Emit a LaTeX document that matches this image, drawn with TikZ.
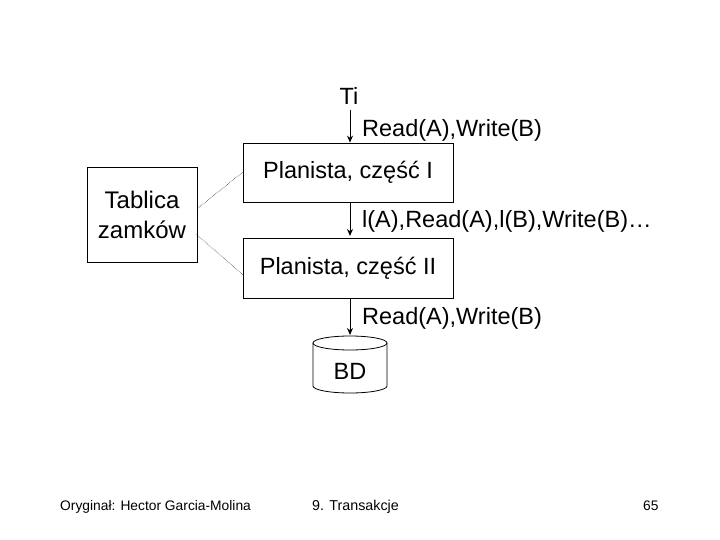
\documentclass[tikz,border=0pt]{standalone}
\usepackage{fontspec}
\setmainfont{Liberation Sans}
\usetikzlibrary{shapes.geometric,arrows.meta}
\begin{document}
\begin{tikzpicture}[x=1pt,y=-1pt,
  big/.style={font=\fontsize{23.5}{27}\selectfont},
  box/.style={draw,line width=0.8pt,inner sep=0pt,big},
  lbl/.style={anchor=west,inner sep=0pt,big},
  arr/.style={-{Stealth[length=7pt,width=6pt]},line width=1pt},
  dots/.style={densely dotted,line width=0.5pt},
  foot/.style={inner sep=0pt,anchor=base west,font=\fontsize{13.8}{16}\selectfont}]
\useasboundingbox (0,0) rectangle (720,540);
\node[inner sep=0pt,big] (ti) at (349,96) {Ti};
\node[box,minimum width=210pt,minimum height=59pt] (p1) at (348,172.5) {Planista, część I};
\node[box,minimum width=210pt,minimum height=60pt] (p2) at (348,268) {Planista, część II};
\node[box,minimum width=110pt,minimum height=95pt,align=center,font=\fontsize{24}{30}\selectfont] (tz) at (142,214.5) {Tablica\\zamków};
\coordinate (a1) at (350,110);
\draw[arr] (a1) -- (a1 |- p1.north);
\node[lbl] (l1) at (362,130) {Read(A),Write(B)};
\coordinate (a2) at (350,202);
\draw[arr] (a2) -- (350,236);
\node[lbl] (l2) at (362,221) {l(A),Read(A),l(B),Write(B)…};
\coordinate (a3) at (350,298);
\draw[arr] (a3) -- (350,335);
\node[lbl] (l3) at (362,318) {Read(A),Write(B)};
% cylinder
\draw[line width=0.8pt] (313,343) -- (313,386) arc[start angle=180,end angle=0,x radius=37,y radius=7] -- (387,343);
\draw[line width=0.8pt] (350,343) ellipse [x radius=37,y radius=7];
\node[inner sep=0pt,big] (bd) at (350,371) {BD};
\coordinate (d1) at (198,208);
\coordinate (d2) at (243,172);
\coordinate (d3) at (196,234);
\coordinate (d4) at (243,275);
\draw[dots] (d1) -- (d2);
\draw[dots] (d3) -- (d4);
\node[foot] (f1) at (60,510) {Oryginał: Hector Garcia-Molina};
\node[foot,font=\fontsize{14.3}{16}\selectfont] (f2) at (312,510) {9. Transakcje};
\node[foot] (f3) at (643,510) {65};
\end{tikzpicture}
\end{document}
